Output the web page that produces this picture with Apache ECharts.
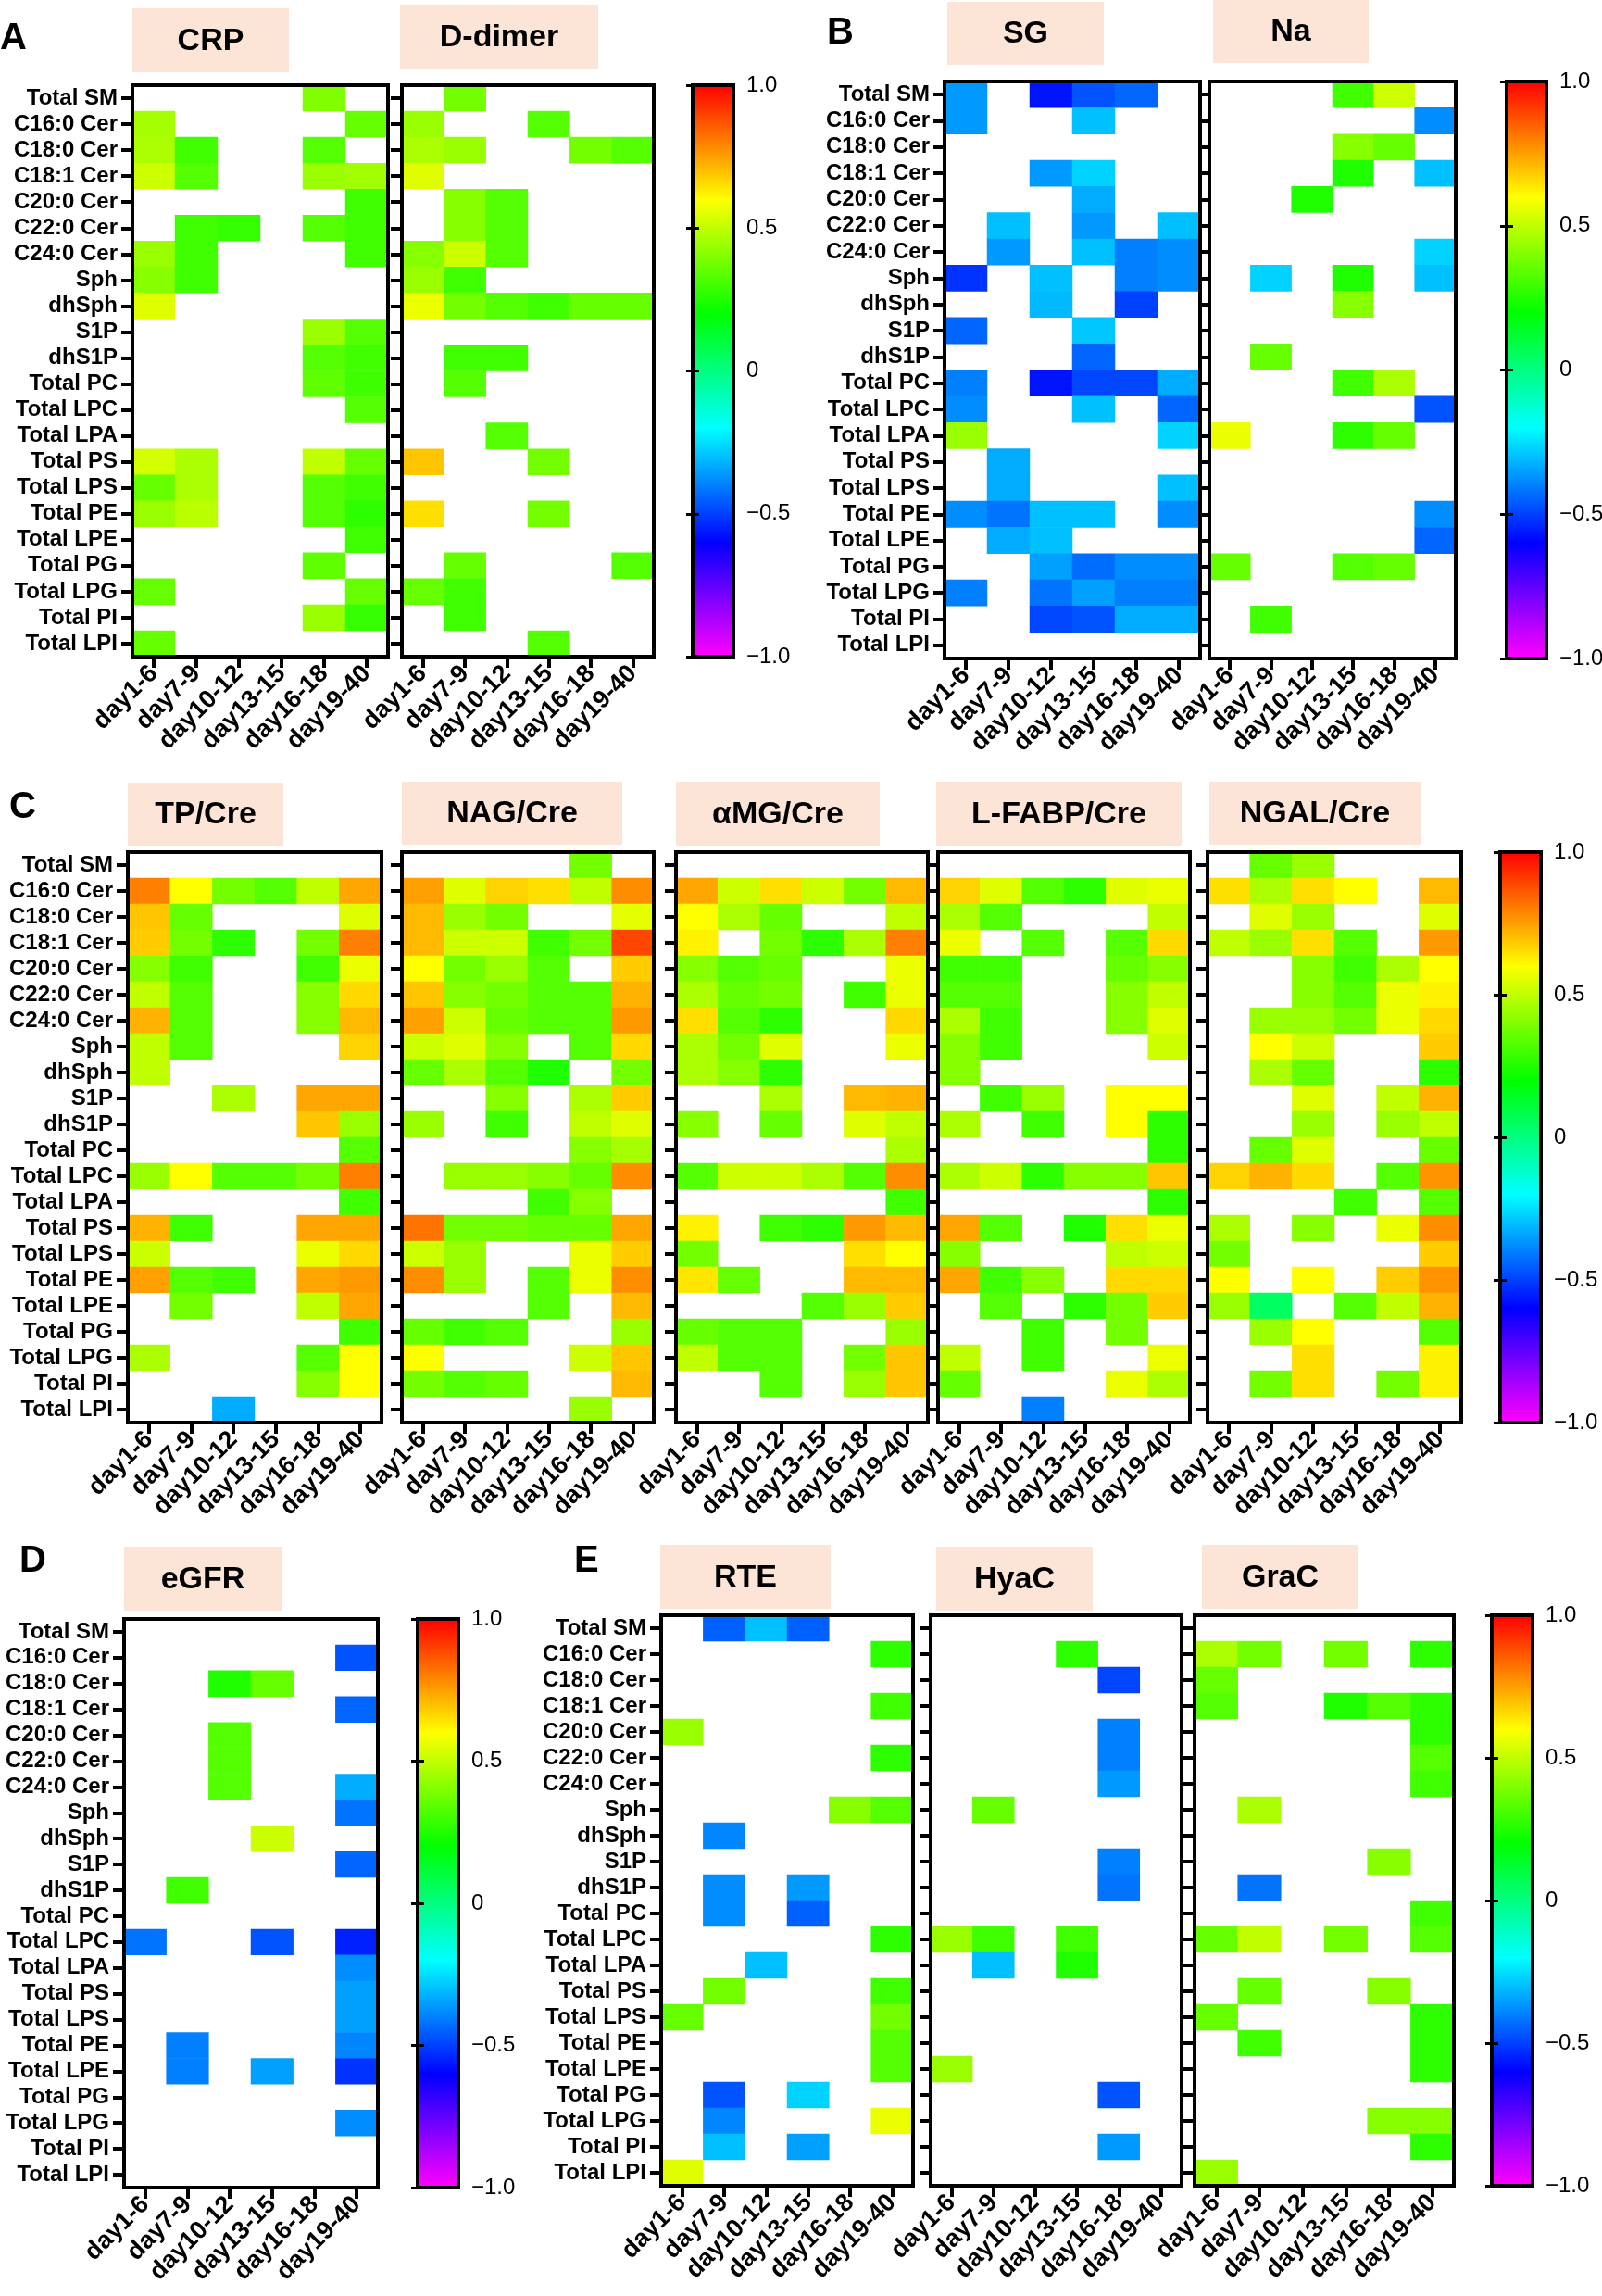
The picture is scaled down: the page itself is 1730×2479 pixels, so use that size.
<!DOCTYPE html>
<html><head><meta charset="utf-8">
<script src="https://cdn.jsdelivr.net/npm/echarts@6/dist/echarts.min.js"></script>
<style>html,body{margin:0;padding:0;background:#fff}#c{width:1730px;height:2479px}</style>
</head><body><div id="c"></div><script>
const _ = null;
const rowLabels = ['Total SM','C16:0 Cer','C18:0 Cer','C18:1 Cer','C20:0 Cer','C22:0 Cer','C24:0 Cer','Sph','dhSph','S1P','dhS1P','Total PC','Total LPC','Total LPA','Total PS','Total LPS','Total PE','Total LPE','Total PG','Total LPG','Total PI','Total LPI'];
const dayLabels = ['day1-6','day7-9','day10-12','day13-15','day16-18','day19-40'];
const colorbarValues = [-1, -0.5, 0, 0.5, 1];
const colorbarLabels = ['\u22121.0', '\u22120.5', '0', '0.5', '1.0'];

const crp = [
 [_,_,_,_,0.40,_],
 [0.46,_,_,_,_,0.36],
 [0.47,0.30,_,_,0.33,_],
 [0.52,0.33,_,_,0.44,0.45],
 [_,_,_,_,_,0.30],
 [_,0.30,0.28,_,0.33,0.30],
 [0.44,0.30,_,_,_,0.30],
 [0.41,0.30,_,_,_,_],
 [0.55,_,_,_,_,_],
 [_,_,_,_,0.44,0.33],
 [_,_,_,_,0.33,0.30],
 [_,_,_,_,0.35,0.30],
 [_,_,_,_,_,0.33],
 [_,_,_,_,_,_],
 [0.53,0.47,_,_,0.50,0.36],
 [0.36,0.47,_,_,0.33,0.30],
 [0.44,0.49,_,_,0.33,0.27],
 [_,_,_,_,_,0.30],
 [_,_,_,_,0.35,_],
 [0.36,_,_,_,_,0.36],
 [_,_,_,_,0.44,0.28],
 [0.36,_,_,_,_,_]
];
const ddimer = [
 [_,0.38,_,_,_,_],
 [0.44,_,_,0.33,_,_],
 [0.47,0.44,_,_,0.38,0.33],
 [0.55,_,_,_,_,_],
 [_,0.41,0.33,_,_,_],
 [_,0.41,0.33,_,_,_],
 [0.41,0.52,0.33,_,_,_],
 [0.44,0.30,_,_,_,_],
 [0.57,0.38,0.33,0.30,0.36,0.36],
 [_,_,_,_,_,_],
 [_,0.30,0.30,_,_,_],
 [_,0.33,_,_,_,_],
 [_,_,_,_,_,_],
 [_,_,0.33,_,_,_],
 [0.69,_,_,0.38,_,_],
 [_,_,_,_,_,_],
 [0.65,_,_,0.38,_,_],
 [_,_,_,_,_,_],
 [_,0.36,_,_,_,0.33],
 [0.36,0.30,_,_,_,_],
 [_,0.30,_,_,_,_],
 [_,_,_,0.33,_,_]
];
const sg = [
 [-0.36,_,-0.57,-0.47,-0.44,_],
 [-0.36,_,_,-0.30,_,_],
 [_,_,_,_,_,_],
 [_,_,-0.36,-0.27,_,_],
 [_,_,_,-0.33,_,_],
 [_,-0.30,_,-0.36,_,-0.30],
 [_,-0.36,_,-0.30,-0.40,-0.38],
 [-0.52,_,-0.30,_,-0.40,-0.38],
 [_,_,-0.31,_,-0.50,_],
 [-0.44,_,_,-0.29,_,_],
 [_,_,_,-0.44,_,_],
 [-0.40,_,-0.57,-0.49,-0.49,-0.33],
 [-0.38,_,_,-0.30,_,-0.44],
 [0.44,_,_,_,_,-0.27],
 [_,-0.33,_,_,_,_],
 [_,-0.33,_,_,_,-0.30],
 [-0.38,-0.42,-0.30,-0.30,_,-0.38],
 [_,-0.33,-0.30,_,_,_],
 [_,_,-0.35,-0.43,-0.38,-0.38],
 [-0.40,_,-0.42,-0.35,-0.40,-0.40],
 [_,_,-0.49,-0.47,-0.33,-0.33],
 [_,_,_,_,_,_]
];
const na = [
 [_,_,_,0.30,0.52,_],
 [_,_,_,_,_,-0.38],
 [_,_,_,0.41,0.36,_],
 [_,_,_,0.25,_,-0.30],
 [_,_,0.25,_,_,_],
 [_,_,_,_,_,_],
 [_,_,_,_,_,-0.27],
 [_,-0.27,_,0.25,_,-0.30],
 [_,_,_,0.41,_,_],
 [_,_,_,_,_,_],
 [_,0.36,_,_,_,_],
 [_,_,_,0.30,0.47,_],
 [_,_,_,_,_,-0.47],
 [0.57,_,_,0.27,0.36,_],
 [_,_,_,_,_,_],
 [_,_,_,_,_,_],
 [_,_,_,_,_,-0.38],
 [_,_,_,_,_,-0.44],
 [0.36,_,_,0.33,0.36,_],
 [_,_,_,_,_,_],
 [_,0.30,_,_,_,_],
 [_,_,_,_,_,_]
];
const tpCre = [
 [_,_,_,_,_,_],
 [0.80,0.60,0.38,0.33,0.50,0.74],
 [0.69,0.36,_,_,_,0.55],
 [0.68,0.38,0.27,_,0.38,0.80],
 [0.41,0.30,_,_,0.30,0.57],
 [0.50,0.33,_,_,0.41,0.66],
 [0.72,0.33,_,_,0.41,0.71],
 [0.50,0.33,_,_,_,0.67],
 [0.50,_,_,_,_,_],
 [_,_,0.47,_,0.74,0.74],
 [_,_,_,_,0.69,0.44],
 [_,_,_,_,_,0.33],
 [0.44,0.60,0.33,0.33,0.38,0.80],
 [_,_,_,_,_,0.30],
 [0.72,0.30,_,_,0.74,0.74],
 [0.52,_,_,_,0.57,0.66],
 [0.75,0.33,0.30,_,0.74,0.76],
 [_,0.38,_,_,0.50,0.74],
 [_,_,_,_,_,0.30],
 [0.47,_,_,_,0.33,0.60],
 [_,_,_,_,0.41,0.60],
 [_,_,-0.33,_,_,_]
];
const nagCre = [
 [_,_,_,_,0.38,_],
 [0.75,0.55,0.67,0.65,0.50,0.78],
 [0.71,0.44,0.38,_,_,0.56],
 [0.71,0.52,0.52,0.30,0.38,0.89],
 [0.60,0.38,0.44,0.33,_,0.68],
 [0.69,0.41,0.38,0.33,0.33,0.72],
 [0.75,0.52,0.36,0.33,0.33,0.76],
 [0.52,0.55,0.41,_,0.33,0.66],
 [0.36,0.47,0.33,0.25,_,0.38],
 [_,_,0.41,_,0.47,0.68],
 [0.44,_,0.30,_,0.50,0.55],
 [_,_,_,_,0.41,0.46],
 [_,0.44,0.44,0.41,0.36,0.78],
 [_,_,_,0.30,0.41,_],
 [0.82,0.38,0.38,0.36,0.36,0.74],
 [0.52,0.44,_,_,0.57,0.68],
 [0.78,0.44,_,0.33,0.57,0.78],
 [_,_,_,0.33,_,0.71],
 [0.36,0.30,0.33,_,_,0.44],
 [0.60,_,_,_,0.52,0.69],
 [0.38,0.33,0.36,_,_,0.71],
 [_,_,_,_,0.44,_]
];
const amgCre = [
 [_,_,_,_,_,_],
 [0.74,0.52,0.65,0.52,0.38,0.71],
 [0.60,0.47,0.36,_,_,0.50],
 [0.62,_,0.38,0.27,0.47,0.80],
 [0.41,0.33,0.36,_,_,0.57],
 [0.47,0.36,0.38,_,0.30,0.57],
 [0.65,0.33,0.27,_,_,0.66],
 [0.47,0.38,0.55,_,_,0.57],
 [0.47,0.41,0.27,_,_,_],
 [_,_,0.47,_,0.71,0.72],
 [0.41,_,0.36,_,0.55,0.50],
 [_,_,_,_,_,0.47],
 [0.33,0.52,0.52,0.47,0.33,0.78],
 [_,_,_,_,_,0.30],
 [0.62,_,0.30,0.27,0.76,0.71],
 [0.38,_,_,_,0.65,0.60],
 [0.64,0.36,_,_,0.71,0.71],
 [_,_,_,0.33,0.44,0.68],
 [0.36,0.33,0.33,_,_,0.44],
 [0.50,0.33,0.33,_,0.38,0.69],
 [_,_,0.33,_,0.44,0.69],
 [_,_,_,_,_,_]
];
const lfabpCre = [
 [_,_,_,_,_,_],
 [0.67,0.55,0.33,0.27,0.55,0.57],
 [0.47,0.33,_,_,_,0.50],
 [0.57,_,0.33,_,0.33,0.66],
 [0.30,0.30,_,_,0.36,0.41],
 [0.33,0.33,_,_,0.41,0.50],
 [0.47,0.30,_,_,0.41,0.55],
 [0.41,0.30,_,_,_,0.52],
 [0.41,_,_,_,_,_],
 [_,0.30,0.44,_,0.60,0.60],
 [0.47,_,0.30,_,0.60,0.27],
 [_,_,_,_,_,0.27],
 [0.47,0.52,0.27,0.41,0.41,0.69],
 [_,_,_,_,_,0.27],
 [0.74,0.33,_,0.25,0.65,0.57],
 [0.41,_,_,_,0.50,0.52],
 [0.74,0.30,0.41,_,0.66,0.66],
 [_,0.33,_,0.27,0.38,0.68],
 [_,_,0.30,_,0.38,_],
 [0.50,_,0.30,_,_,0.57],
 [0.36,_,_,_,0.57,0.47],
 [_,_,-0.40,_,_,_]
];
const ngalCre = [
 [_,0.36,0.44,_,_,_],
 [0.65,0.47,0.65,0.60,_,0.71],
 [_,0.55,0.44,_,_,0.55],
 [0.50,0.44,0.65,0.33,_,0.76],
 [_,_,0.41,0.30,0.47,0.60],
 [_,_,0.41,0.33,0.57,0.62],
 [_,0.44,0.44,0.38,0.57,0.66],
 [_,0.60,0.52,_,_,0.68],
 [_,0.47,0.36,_,_,0.27],
 [_,_,0.55,_,0.50,0.72],
 [_,_,0.44,_,0.44,0.50],
 [_,0.36,0.55,_,_,0.36],
 [0.67,0.72,0.66,_,0.33,0.77],
 [_,_,_,0.30,_,0.33],
 [0.47,_,0.41,_,0.57,0.78],
 [0.38,_,_,_,_,0.68],
 [0.60,_,0.60,_,0.68,0.77],
 [0.44,0.05,_,0.33,0.50,0.72],
 [_,0.44,0.60,_,_,0.33],
 [_,_,0.65,_,_,0.62],
 [_,0.38,0.65,_,0.38,0.62],
 [_,_,_,_,_,_]
];
const egfr = [
 [_,_,_,_,_,_],
 [_,_,_,_,_,-0.47],
 [_,_,0.25,0.36,_,_],
 [_,_,_,_,_,-0.44],
 [_,_,0.33,_,_,_],
 [_,_,0.33,_,_,_],
 [_,_,0.33,_,_,-0.33],
 [_,_,_,_,_,-0.42],
 [_,_,_,0.52,_,_],
 [_,_,_,_,_,-0.44],
 [_,0.30,_,_,_,_],
 [_,_,_,_,_,_],
 [-0.42,_,_,-0.47,_,-0.55],
 [_,_,_,_,_,-0.38],
 [_,_,_,_,_,-0.35],
 [_,_,_,_,_,-0.35],
 [_,-0.40,_,_,_,-0.39],
 [_,-0.40,_,-0.35,_,-0.52],
 [_,_,_,_,_,_],
 [_,_,_,_,_,-0.38],
 [_,_,_,_,_,_],
 [_,_,_,_,_,_]
];
const rte = [
 [_,-0.45,-0.30,-0.45,_,_],
 [_,_,_,_,_,0.27],
 [_,_,_,_,_,_],
 [_,_,_,_,_,0.30],
 [0.44,_,_,_,_,_],
 [_,_,_,_,_,0.27],
 [_,_,_,_,_,_],
 [_,_,_,_,0.41,0.33],
 [_,-0.39,_,_,_,_],
 [_,_,_,_,_,_],
 [_,-0.38,_,-0.36,_,_],
 [_,-0.38,_,-0.45,_,_],
 [_,_,_,_,_,0.27],
 [_,_,-0.30,_,_,_],
 [_,0.38,_,_,_,0.30],
 [0.36,_,_,_,_,0.38],
 [_,_,_,_,_,0.33],
 [_,_,_,_,_,0.33],
 [_,-0.47,_,-0.27,_,_],
 [_,-0.39,_,_,_,0.57],
 [_,-0.30,_,-0.35,_,_],
 [0.55,_,_,_,_,_]
];
const hyac = [
 [_,_,_,_,_,_],
 [_,_,_,0.27,_,_],
 [_,_,_,_,-0.49,_],
 [_,_,_,_,_,_],
 [_,_,_,_,-0.40,_],
 [_,_,_,_,-0.40,_],
 [_,_,_,_,-0.36,_],
 [_,0.36,_,_,_,_],
 [_,_,_,_,_,_],
 [_,_,_,_,-0.40,_],
 [_,_,_,_,-0.42,_],
 [_,_,_,_,_,_],
 [0.44,0.30,_,0.30,_,_],
 [_,-0.30,_,0.25,_,_],
 [_,_,_,_,_,_],
 [_,_,_,_,_,_],
 [_,_,_,_,_,_],
 [0.44,_,_,_,_,_],
 [_,_,_,_,-0.47,_],
 [_,_,_,_,_,_],
 [_,_,_,_,-0.36,_],
 [_,_,_,_,_,_]
];
const grac = [
 [_,_,_,_,_,_],
 [0.47,0.38,_,0.38,_,0.27],
 [0.36,_,_,_,_,_],
 [0.33,_,_,0.25,0.33,0.27],
 [_,_,_,_,_,0.27],
 [_,_,_,_,_,0.33],
 [_,_,_,_,_,0.30],
 [_,0.47,_,_,_,_],
 [_,_,_,_,_,_],
 [_,_,_,_,0.41,_],
 [_,-0.42,_,_,_,_],
 [_,_,_,_,_,0.30],
 [0.36,0.50,_,0.38,_,0.33],
 [_,_,_,_,_,_],
 [_,0.36,_,_,0.41,_],
 [0.36,_,_,_,_,0.27],
 [_,0.30,_,_,_,0.27],
 [_,_,_,_,_,0.27],
 [_,_,_,_,_,_],
 [_,_,_,_,0.41,0.41],
 [_,_,_,_,_,0.27],
 [0.44,_,_,_,_,_]
];

// ---------- layout (positions / styles) ----------
const FONT = '"Liberation Sans", Arial, Helvetica, sans-serif';
const rainbow = ['#FF00FF','#8000FF','#0000FF','#0080FF','#00FFFF','#00FF80','#00FF00','#80FF00','#FFFF00','#FF8000','#FF0000'];
const panelDefs = [
 {title:'CRP', data:crp, x:143, y:92, w:276, h:617, labels:true, tb:[143,9,169,69], cb:0},
 {title:'D-dimer', data:ddimer, x:434, y:92, w:272, h:617, labels:false, tb:[432,5,214,69], cb:0},
 {title:'SG', data:sg, x:1020, y:88, w:276, h:623, labels:true, tb:[1023,2,169,68], cb:1},
 {title:'Na', data:na, x:1306, y:88, w:266, h:623, labels:false, tb:[1310,0,168,68], cb:1},
 {title:'TP/Cre', data:tpCre, x:138, y:920, w:274, h:616, labels:true, tb:[138,845,168,68], cb:2},
 {title:'NAG/Cre', data:nagCre, x:434, y:920, w:272, h:616, labels:false, tb:[434,844,238,68], cb:2},
 {title:'\u03B1MG/Cre', data:amgCre, x:730, y:920, w:272, h:616, labels:false, tb:[730,844,220,69], cb:2},
 {title:'L-FABP/Cre', data:lfabpCre, x:1013, y:920, w:272, h:616, labels:false, tb:[1011,844,265,69], cb:2},
 {title:'NGAL/Cre', data:ngalCre, x:1304, y:920, w:274, h:616, labels:false, tb:[1306,844,228,68], cb:2},
 {title:'eGFR', data:egfr, x:134, y:1748, w:274, h:614, labels:true, tb:[134,1670,170,69], cb:3},
 {title:'RTE', data:rte, x:714, y:1744, w:272, h:616, labels:true, tb:[713,1668,184,69], cb:4},
 {title:'HyaC', data:hyac, x:1005, y:1744, w:271, h:616, labels:false, tb:[1011,1670,169,69], cb:4},
 {title:'GraC', data:grac, x:1290, y:1744, w:280, h:616, labels:false, tb:[1298,1668,169,69], cb:4}
];
const colorbars = [
 {x:748, y:92, w:44, h:617},
 {x:1627, y:88, w:43, h:623},
 {x:1620, y:920, w:44, h:616},
 {x:451, y:1748, w:44, h:614},
 {x:1611, y:1744, w:44, h:616}
];
const letters = [['A',0,22],['B',893,16],['C',10,852],['D',21,1666],['E',620,1666]];

const grids=[], xAxes=[], yAxes=[], series=[], visualMaps=[], graphics=[];
const tickStyle = {show:true, alignWithLabel:true, interval:0, length:12, lineStyle:{color:'#000', width:4}};
panelDefs.forEach((p,i)=>{
  grids.push({left:p.x, top:p.y, width:p.w, height:p.h, show:true, z:10, backgroundColor:'transparent', borderColor:'#000', borderWidth:4, containLabel:false, outerBoundsMode:'none'});
  xAxes.push({type:'category', gridIndex:i, data:dayLabels, position:'bottom', z:12,
    axisLine:{show:false}, axisTick:tickStyle, splitLine:{show:false},
    axisLabel:{interval:0, rotate:45, margin:14, fontSize:27, fontWeight:'bold', color:'#000', fontFamily:FONT}});
  yAxes.push({type:'category', gridIndex:i, data:rowLabels, inverse:true, z:12,
    axisLine:{show:false}, axisTick:tickStyle, splitLine:{show:false},
    axisLabel:{show:p.labels, interval:0, margin:16, fontSize:24, fontWeight:'bold', color:'#000', fontFamily:FONT}});
  const d=[];
  p.data.forEach((row,r)=>row.forEach((v,c)=>{ if(v!==null) d.push([c,r,v]); }));
  series.push({type:'heatmap', name:p.title, xAxisIndex:i, yAxisIndex:i, data:d, itemStyle:{borderWidth:0}, emphasis:{disabled:true}, progressive:0});
  graphics.push({type:'rect', shape:{x:p.tb[0], y:p.tb[1], width:p.tb[2], height:p.tb[3]}, style:{fill:'#FCE4D6'}, z:1});
  graphics.push({type:'text', x:p.tb[0]+p.tb[2]/2, y:p.tb[1]+p.tb[3]/2+1, style:{text:p.title, font:'bold 34px '+FONT, fill:'#000', align:'center', verticalAlign:'middle', textAlign:'center', textVerticalAlign:'middle'}, z:2});
});
colorbars.forEach((cb,k)=>{
  const gi = grids.length;
  grids.push({left:cb.x, top:cb.y, width:cb.w, height:cb.h, show:true, z:10, backgroundColor:'transparent', borderColor:'#000', borderWidth:4, containLabel:false, outerBoundsMode:'none'});
  xAxes.push({type:'value', gridIndex:gi, show:false, min:0, max:1});
  const cbTick = {show:true, inside:true, length:7, lineStyle:{color:'#000', width:3}};
  yAxes.push({type:'value', gridIndex:gi, position:'right', min:-1, max:1, interval:0.5, z:12,
    axisLine:{show:false}, axisTick:cbTick, splitLine:{show:false},
    axisLabel:{margin:14, fontSize:24, color:'#000', fontFamily:FONT,
      formatter:v=>{const j=colorbarValues.findIndex(t=>Math.abs(t-v)<1e-9); return j>=0?colorbarLabels[j]:'';}}});
  yAxes.push({type:'value', gridIndex:gi, position:'left', min:-1, max:1, interval:0.5, z:12,
    axisLine:{show:false}, axisTick:cbTick, splitLine:{show:false}, axisLabel:{show:false}});
  const idx = panelDefs.map((p,i)=>p.cb===k?i:-1).filter(i=>i>=0);
  visualMaps.push({type:'continuous', min:-1, max:1, seriesIndex:idx, left:cb.x, top:cb.y, itemWidth:cb.w, itemHeight:cb.h,
    calculable:false, padding:0, hoverLink:false, inRange:{color:rainbow}, z:4});
});
letters.forEach(l=>{
  graphics.push({type:'text', x:l[1], y:l[2], style:{text:l[0], font:'bold 40px '+FONT, fill:'#000', align:'left', verticalAlign:'top', textAlign:'left', textVerticalAlign:'top'}, z:2});
});

const chart = echarts.init(document.getElementById('c'), null, {width:1730, height:2479});
chart.setOption({
  animation:false,
  backgroundColor:'#fff',
  grid:grids, xAxis:xAxes, yAxis:yAxes, series:series, visualMap:visualMaps,
  graphic:{elements:graphics}
});
</script></body></html>
